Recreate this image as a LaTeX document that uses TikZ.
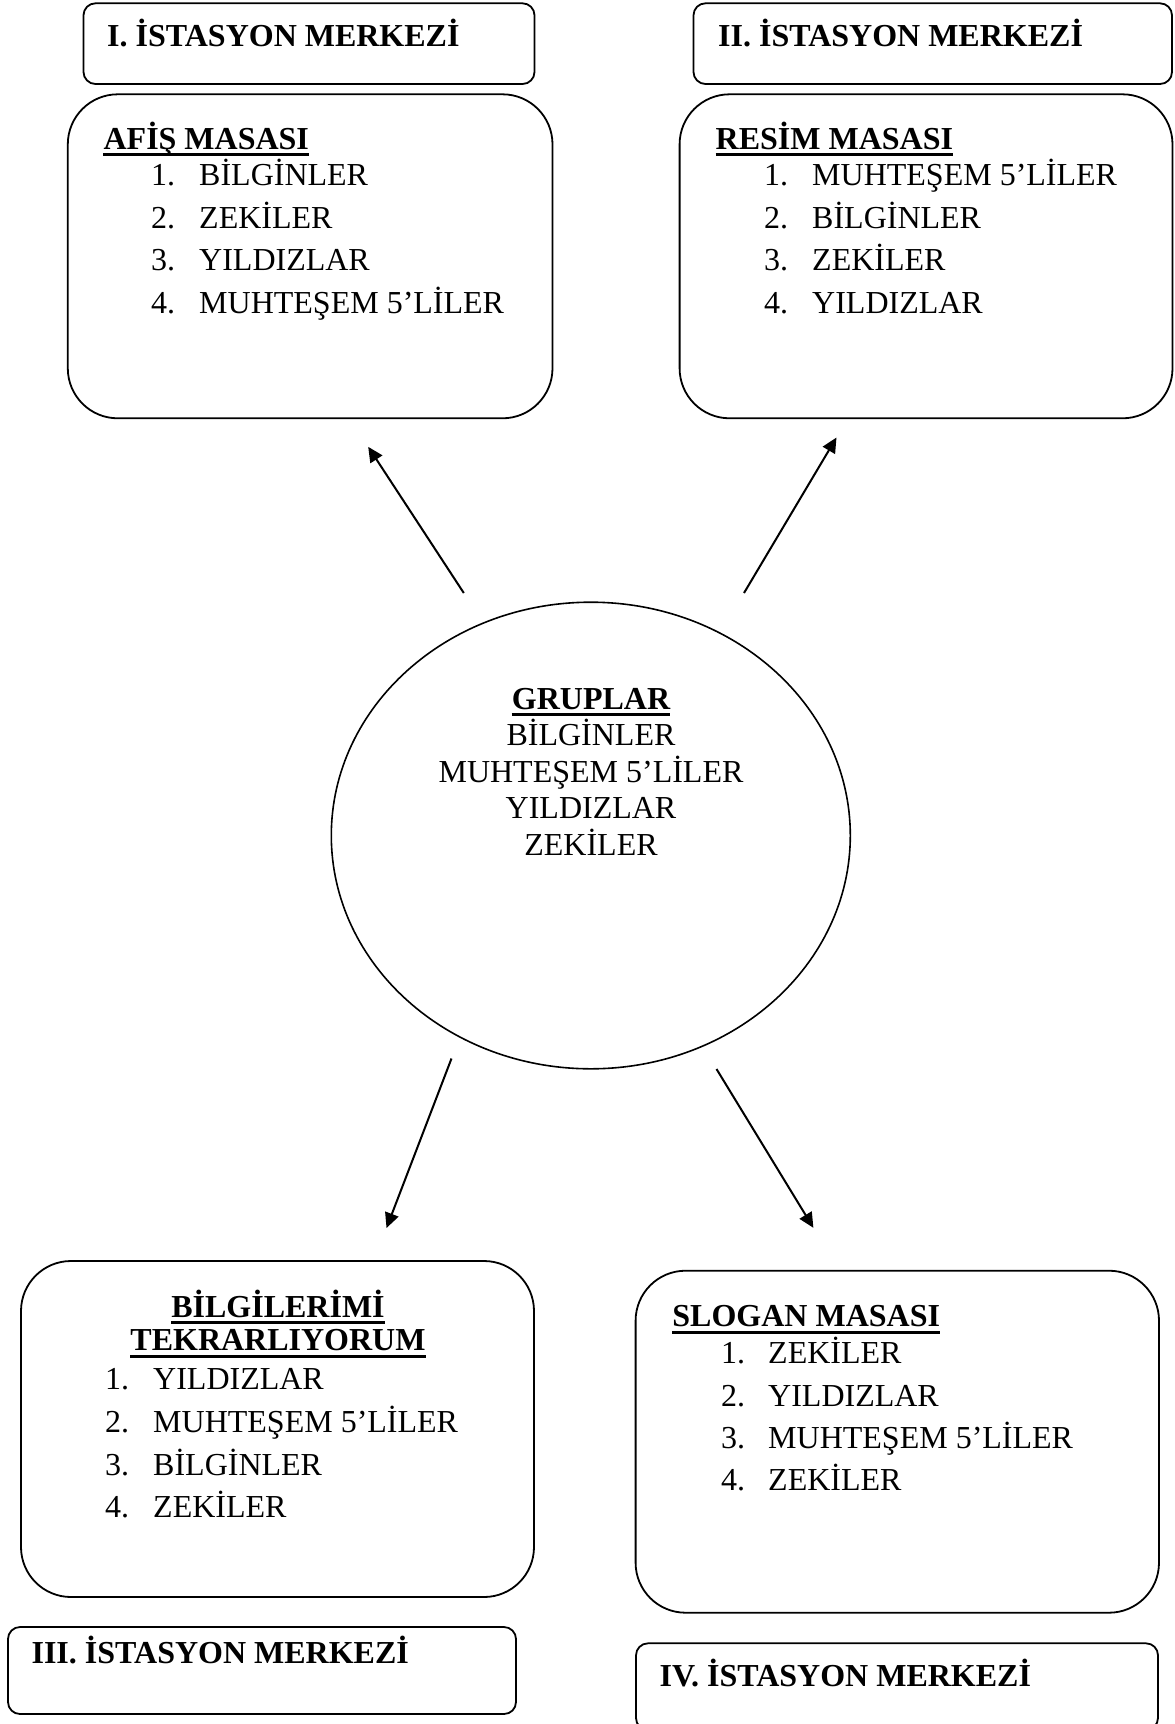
\documentclass[tikz,border=0pt]{standalone}
\usepackage{fontspec}
\setmainfont{Liberation Serif}
\usetikzlibrary{arrows.meta,shapes.geometric,calc}
\begin{document}
\begin{tikzpicture}[x=1pt,y=-1pt,
  stbox/.style={draw, line width=1.8pt, rounded corners=12pt, inner sep=0pt},
  panel/.style={draw, line width=1.8pt, rounded corners=50pt, inner sep=0pt},
  txt/.style={inner sep=0pt, anchor=base west, font=\fontsize{32}{38}\selectfont},
  ctxt/.style={inner sep=0pt, anchor=base, font=\fontsize{32}{38}\selectfont},
  hd/.style={inner sep=0pt, anchor=base west, font=\fontsize{32}{38}\selectfont\bfseries},
  chd/.style={inner sep=0pt, anchor=base, font=\fontsize{32}{38}\selectfont\bfseries},
  uline/.style={line width=3.2pt},
  arr/.style={line width=2pt, -{Triangle[length=15pt,width=14pt]}}
]
\useasboundingbox (0,0) rectangle (1175,1724);

% ---------- station I ----------
\node[stbox, minimum width=451pt, minimum height=80.7pt] (s1) at (309,43.65) {};
\node[hd] (s1t) at (107,46.7) {I. İSTASYON MERKEZİ};

% ---------- AFİŞ MASASI ----------
\node[panel, minimum width=484.7pt, minimum height=324pt] (p1) at (310.15,256.3) {};
\node[hd] (p1h) at (103.4,149) {AFİŞ MASASI};
\draw[uline] ($(p1h.base west)+(0,5.5)$) -- ($(p1h.base east)+(0,5.5)$);
\node[txt] (p1n1) at (151,185.7) {1.}; \node[txt] (p1i1) at (199,185.7) {BİLGİNLER};
\node[txt] (p1n2) at (151,228.3) {2.}; \node[txt] (p1i2) at (199,228.3) {ZEKİLER};
\node[txt] (p1n3) at (151,270.7) {3.}; \node[txt] (p1i3) at (199,270.7) {YILDIZLAR};
\node[txt] (p1n4) at (151,313.3) {4.}; \node[txt] (p1i4) at (199,313.3) {MUHTEŞEM 5’LİLER};

% ---------- station II ----------
\node[stbox, minimum width=478.5pt, minimum height=80.7pt] (s2) at (932.75,43.65) {};
\node[hd] (s2t) at (718,46.7) {II. İSTASYON MERKEZİ};

% ---------- RESİM MASASI ----------
\node[panel, minimum width=492.9pt, minimum height=324pt] (p2) at (926.05,256.3) {};
\node[hd] (p2h) at (715.5,149) {RESİM MASASI};
\draw[uline] ($(p2h.base west)+(0,5.5)$) -- ($(p2h.base east)+(0,5.5)$);
\node[txt] (p2n1) at (764,185.7) {1.}; \node[txt] (p2i1) at (812,185.7) {MUHTEŞEM 5’LİLER};
\node[txt] (p2n2) at (764,228.3) {2.}; \node[txt] (p2i2) at (812,228.3) {BİLGİNLER};
\node[txt] (p2n3) at (764,270.7) {3.}; \node[txt] (p2i3) at (812,270.7) {ZEKİLER};
\node[txt] (p2n4) at (764,313.3) {4.}; \node[txt] (p2i4) at (812,313.3) {YILDIZLAR};

% ---------- GRUPLAR ellipse ----------
\node[draw, ellipse, line width=1.6pt, inner sep=0pt, minimum width=519pt, minimum height=466.6pt] (g) at (590.8,835.5) {};
\node[chd] (gh) at (591,709) {GRUPLAR};
\draw[uline] ($(gh.base west)+(0,5.5)$) -- ($(gh.base east)+(0,5.5)$);
\node[ctxt] (g1) at (591,745) {BİLGİNLER};
\node[ctxt] (g2) at (591,782.5) {MUHTEŞEM 5’LİLER};
\node[ctxt] (g3) at (591,818.5) {YILDIZLAR};
\node[ctxt] (g4) at (591,855) {ZEKİLER};

% ---------- arrows ----------
\coordinate (a1s) at (463.8,593);   \coordinate (a1e) at (368.2,446.8);
\coordinate (a2s) at (744,593);     \coordinate (a2e) at (836.5,437.5);
\coordinate (a3s) at (451.5,1058.5); \coordinate (a3e) at (386.5,1228);
\coordinate (a4s) at (716.5,1069);  \coordinate (a4e) at (813.4,1227.8);
\draw[arr] (a1s) -- (a1e);
\draw[arr] (a2s) -- (a2e);
\draw[arr] (a3s) -- (a3e);
\draw[arr] (a4s) -- (a4e);

% ---------- BİLGİLERİMİ TEKRARLIYORUM ----------
\node[panel, minimum width=513pt, minimum height=336pt] (p3) at (277.5,1429) {};
\node[chd] (p3h1) at (278,1317.3) {BİLGİLERİMİ};
\draw[uline] ($(p3h1.base west)+(0,5)$) -- ($(p3h1.base east)+(0,5)$);
\node[chd] (p3h2) at (278,1350.7) {TEKRARLIYORUM};
\draw[uline] ($(p3h2.base west)+(0,5.5)$) -- ($(p3h2.base east)+(0,5.5)$);
\node[txt] (p3n1) at (105,1389.3) {1.}; \node[txt] (p3i1) at (153,1389.3) {YILDIZLAR};
\node[txt] (p3n2) at (105,1432.3) {2.}; \node[txt] (p3i2) at (153,1432.3) {MUHTEŞEM 5’LİLER};
\node[txt] (p3n3) at (105,1475) {3.};   \node[txt] (p3i3) at (153,1475) {BİLGİNLER};
\node[txt] (p3n4) at (105,1517.3) {4.}; \node[txt] (p3i4) at (153,1517.3) {ZEKİLER};

% ---------- station III ----------
\node[stbox, minimum width=508pt, minimum height=87pt] (s3) at (262,1670.5) {};
\node[hd] (s3t) at (31.4,1663) {III. İSTASYON MERKEZİ};

% ---------- SLOGAN MASASI ----------
\node[panel, minimum width=523.4pt, minimum height=342pt] (p4) at (897.3,1441.7) {};
\node[hd] (p4h) at (672.2,1326.7) {SLOGAN MASASI};
\draw[uline] ($(p4h.base west)+(0,5.5)$) -- ($(p4h.base east)+(0,5.5)$);
\node[txt] (p4n1) at (721,1363.3) {1.}; \node[txt] (p4i1) at (768,1363.3) {ZEKİLER};
\node[txt] (p4n2) at (721,1406) {2.};   \node[txt] (p4i2) at (768,1406) {YILDIZLAR};
\node[txt] (p4n3) at (721,1448.3) {3.}; \node[txt] (p4i3) at (768,1448.3) {MUHTEŞEM 5’LİLER};
\node[txt] (p4n4) at (721,1490) {4.};   \node[txt] (p4i4) at (768,1490) {ZEKİLER};

% ---------- station IV (cut at page bottom) ----------
\begin{scope}
\clip (0,0) rectangle (1175,1724);
\node[stbox, minimum width=522pt, minimum height=86.7pt] (s4) at (897,1686.65) {};
\end{scope}
\node[hd] (s4t) at (659.5,1686.5) {IV. İSTASYON MERKEZİ};
\end{tikzpicture}
\end{document}
